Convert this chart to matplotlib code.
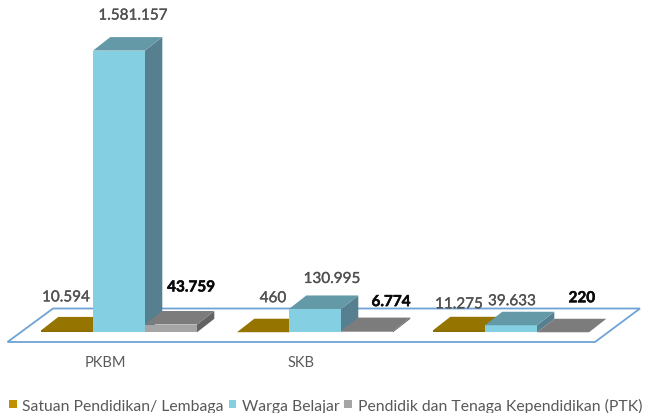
import matplotlib
matplotlib.use("Agg")
import matplotlib.pyplot as plt
from matplotlib.patches import Polygon, Patch
import matplotlib.patheffects as pe

categories = ["PKBM", "SKB", ""]
series_names = ["Satuan Pendidikan/ Lembaga", "Warga Belajar", "Pendidik dan Tenaga Kependidikan (PTK)"]
satuan = [10594, 460, 11275]
warga = [1581157, 130995, 39633]
ptk = [43759, 6774, 220]
label_text = [["10.594", "460", "11.275"], ["1.581.157", "130.995", "39.633"], ["43.759", "6.774", "220"]]

# styles / layout
W, H = 646, 414
FONT = "Lato"
front = ["#8B6D00", "#84CFE1", "#A5A5A5"]
top = ["#957500", "#649AA8", "#7C7C7C"]
side = ["#6E5700", "#568090", "#626262"]
legend_col = ["#BF9000", "#84CFE1", "#A5A5A5"]
label_col = ["#505050", "#505050", "#0A0A0A"]
label_w = ["normal", "normal", "bold"]
label_stroke = [0.2, 0.2, 0.35]
# pixel offset of each label centre from its bar's front-top centre (dx, dy up)
label_off = [
    [(-1, 33), (10, 34), (0, 26)],
    [(14, 35), (17, 30), (1, 24)],
    [(20, 37), (24, 29), (19, 34)],
]

PX_PER_VAL = 281.7 / 1581157
BASE_Y = 333.3
X0, PX_PER_CAT = 119.0, 196.0
BAR_W = 52 / PX_PER_CAT
DX, DY = 17.3 / PX_PER_CAT, 13.5 / PX_PER_VAL


def X(px):
    return (px - X0) / PX_PER_CAT


def Y(py):
    return (BASE_Y - py) / PX_PER_VAL


fig = plt.figure(figsize=(W / 100, H / 100), dpi=100)
ax = fig.add_axes([0, 0, 1, 1])
ax.set_xlim(X(0), X(W))
ax.set_ylim(Y(H), Y(0))
ax.axis("off")

ax.add_patch(Polygon([(X(7.5), Y(343)), (X(53), Y(309.5)), (X(640), Y(309.5)), (X(595), Y(343))],
                     closed=True, fc="white", ec="#6FA3D6", lw=1.3, zorder=1))

data = [satuan, warga, ptk]
z = 2
for c in range(len(categories)):
    for s in range(3):
        v = data[s][c]
        x = c + (s - 1) * BAR_W
        l, r = x - BAR_W / 2, x + BAR_W / 2
        ax.bar(x, v, width=BAR_W, color=front[s], lw=0, zorder=z)
        ax.add_patch(Polygon([(r, 0), (r + DX, DY), (r + DX, v + DY), (r, v)], fc=side[s], lw=0, zorder=z))
        ax.add_patch(Polygon([(l, v), (l + DX, v + DY), (r + DX, v + DY), (r, v)], fc=top[s], lw=0, zorder=z))
        z += 1
        ox, oy = label_off[s][c]
        t = ax.annotate(label_text[s][c], (x, v), xytext=(ox * 0.72, oy * 0.72), textcoords="offset points",
                        ha="center", va="center", fontsize=11, family=FONT,
                        color=label_col[s], fontweight=label_w[s], zorder=50)
        t.set_path_effects([pe.withStroke(linewidth=label_stroke[s], foreground=label_col[s])])

for c, name in enumerate(categories):
    ax.annotate(name, (c, 0), xytext=(-14 * 0.72, -30 * 0.72), textcoords="offset points",
                ha="center", va="center", fontsize=10.5, family=FONT, color="#595959")

handles = [Patch(fc=col, lw=0) for col in legend_col]
ax.legend(handles, series_names, loc="lower left", bbox_to_anchor=(0.014, 0.001), ncol=3, frameon=False,
          handlelength=0.5, handleheight=0.5, handletextpad=0.35, columnspacing=0.3,
          prop={"family": FONT, "size": 11.3}, labelcolor="#595959", borderaxespad=0, borderpad=0)

fig.savefig("out.png", dpi=100)
